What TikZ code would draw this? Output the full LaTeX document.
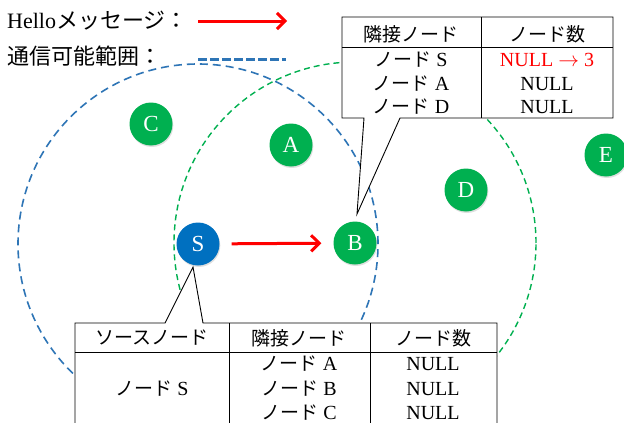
\documentclass[tikz,border=0pt]{standalone}
\usepackage{fontspec}
\setmainfont{Liberation Serif}
\newfontfamily\jp{Noto Sans CJK JP}
\usetikzlibrary{arrows.meta,shadows}
\definecolor{nodegreen}{HTML}{00B050}
\definecolor{nodeblue}{HTML}{0070C0}
\definecolor{rangeblue}{HTML}{2E75B6}
\definecolor{rangegreen}{HTML}{00B050}
\tikzset{
  station/.style={circle, minimum size=43pt, inner sep=0pt, text=white,
    font=\fontsize{23}{23}\selectfont,
    drop shadow={opacity=0.25, shadow xshift=0.8pt, shadow yshift=-1.5pt}},
  greenst/.style={station, fill=nodegreen},
  bluest/.style={station, fill=nodeblue},
  msgarrow/.style={draw=red, line width=3pt, -{Straight Barb[length=8pt, width=16pt]}},
  bluerange/.style={draw=rangeblue, line width=1.6pt, dash pattern=on 8pt off 5pt},
  greenrange/.style={draw=rangegreen, line width=1.4pt, dash pattern=on 6pt off 4pt},
  callout/.style={draw=black, fill=white, line width=0.9pt, line join=miter},
  grid/.style={draw=black, line width=0.9pt},
  cell/.style={inner sep=0pt, anchor=center, font=\fontsize{20}{21}\selectfont},
  jpt/.style={font=\fontsize{19}{20}\selectfont\jp},
  legend/.style={inner sep=0pt, anchor=west, font=\fontsize{22}{23}\selectfont},
}
\newcommand{\jn}[1]{{\fontsize{19}{20}\selectfont\jp #1}}
\begin{document}
\begin{tikzpicture}[x=1pt, y=-1pt]
\clip (0,0) rectangle (624,423);
\fill[white] (0,0) rectangle (624,423);

% legend
\node[legend] (lg1) at (7,21) {Hello{\jp メッセージ：}};
\node[legend] (lg2) at (7,56) {{\jp 通信可能範囲：}};
\coordinate (la1) at (198,21);
\coordinate (la2) at (287,21);
\draw[msgarrow] (la1) -- (la2);
\coordinate (ld1) at (198,59);
\coordinate (ld2) at (286,59);
\draw[draw=rangeblue, line width=3pt, dash pattern=on 9pt off 3pt] (ld1) -- (ld2);

% ranges
\coordinate (s0) at (198,244);
\coordinate (b0) at (355,243);
\draw[bluerange] (s0) circle[radius=180pt];
\draw[greenrange] (b0) circle[radius=181pt];

% stations
\node[greenst] (C) at (151,124) {C};
\node[greenst] (A) at (291,145) {A};
\node[greenst] (D) at (466,190) {D};
\node[greenst] (E) at (606,155) {E};
\node[greenst] (B) at (b0) {B};
\node[bluest] (S) at (s0) {S};
\draw[msgarrow, shorten <=12pt, shorten >=12pt] (S) -- (B);

% top table (neighbour table of B)
\coordinate (tipB) at (357,214);
\draw[callout] (342,17) -- (613,17) -- (613,118) -- (400,118) -- (tipB) -- (364,118) -- (342,118) -- cycle;
\draw[grid] (342,47) -- (613,47);
\draw[grid] (481,17) -- (481,118);
\node[cell] (t11) at (411,34) {\jn{隣接ノード}};
\node[cell] (t12) at (547,34) {\jn{ノード数}};
\node[cell] (t21) at (411,60) {\jn{ノード} S};
\node[cell, text=red] (t22) at (547,60) {NULL $\rightarrow$ 3};
\node[cell] (t31) at (411,84) {\jn{ノード} A};
\node[cell] (t32) at (547,84) {NULL};
\node[cell] (t41) at (411,107) {\jn{ノード} D};
\node[cell] (t42) at (547,107) {NULL};

% bottom table (source table of S)
\coordinate (tipS) at (193,267);
\draw[callout] (75,323) -- (165,323) -- (tipS) -- (203,323) -- (497,323) -- (497,440) -- (75,440) -- cycle;
\draw[grid] (75,352) -- (497,352);
\draw[grid] (229,323) -- (229,440);
\draw[grid] (370,323) -- (370,440);
\node[cell] (u11) at (152,338) {\jn{ソースノード}};
\node[cell] (u12) at (299,338) {\jn{隣接ノード}};
\node[cell] (u13) at (433,338) {\jn{ノード数}};
\node[cell] (u21) at (152,389) {\jn{ノード} S};
\node[cell] (u22) at (299,364) {\jn{ノード} A};
\node[cell] (u23) at (433,364) {NULL};
\node[cell] (u32) at (299,389) {\jn{ノード} B};
\node[cell] (u33) at (433,389) {NULL};
\node[cell] (u42) at (299,413) {\jn{ノード} C};
\node[cell] (u43) at (433,413) {NULL};
\end{tikzpicture}
\end{document}
